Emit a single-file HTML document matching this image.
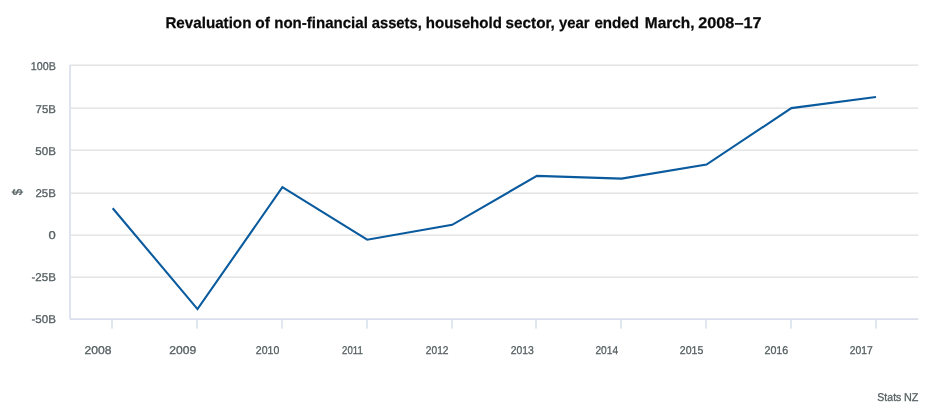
<!DOCTYPE html>
<html lang="en"><head><meta charset="utf-8"><title>Revaluation of non-financial assets, household sector</title>
<style>html,body{margin:0;padding:0;background:#fff;}body{width:945px;height:413px;overflow:hidden;}svg{display:block;}text{font-family:"Liberation Sans",sans-serif;}.t{will-change:transform;text-rendering:geometricPrecision;}</style></head><body>
<svg width="945" height="413" viewBox="0 0 945 413">
<rect width="945" height="413" fill="#ffffff"/>
<g fill="#e6e6e6">
<rect x="70" y="64" width="848.3" height="1" fill="#efefef"/><rect x="70" y="65" width="848.3" height="1"/>
<rect x="70" y="107" width="848.3" height="1" fill="#efefef"/><rect x="70" y="108" width="848.3" height="1"/>
<rect x="70" y="149" width="848.3" height="1" fill="#efefef"/><rect x="70" y="150" width="848.3" height="1"/>
<rect x="70" y="192" width="848.3" height="1" fill="#efefef"/><rect x="70" y="193" width="848.3" height="1"/>
<rect x="70" y="234" width="848.3" height="1" fill="#efefef"/><rect x="70" y="235" width="848.3" height="1"/>
<rect x="70" y="276" width="848.3" height="1" fill="#efefef"/><rect x="70" y="277" width="848.3" height="1"/>
</g>
<g fill="#e1e7f1">
<rect x="69" y="65" width="2" height="254" fill="#dee4f0"/>
<rect x="69.9" y="318" width="848.4" height="1" fill="#e1e6f0"/>
<rect x="69.9" y="319" width="848.4" height="1" fill="#dbdcec"/>
<rect x="111" y="320" width="2" height="8.6"/>
<rect x="196" y="320" width="2" height="8.6"/>
<rect x="281" y="320" width="2" height="8.6"/>
<rect x="366" y="320" width="2" height="8.6"/>
<rect x="451" y="320" width="2" height="8.6"/>
<rect x="535" y="320" width="2" height="8.6"/>
<rect x="620" y="320" width="2" height="8.6"/>
<rect x="705" y="320" width="2" height="8.6"/>
<rect x="790" y="320" width="2" height="8.6"/>
<rect x="875" y="320" width="2" height="8.6"/>
</g>
<path d="M112.7 208.2 L197.5 309.1 L282.4 187.2 L367.2 239.7 L452.2 224.8 L536.9 175.9 L621.5 178.6 L706.5 164.6 L791.4 108.1 L876.0 97.0" fill="none" stroke="#0a5a9e" stroke-width="2.1" stroke-linejoin="miter" stroke-linecap="butt"/>
<g class="t">
<text y="28" font-size="15.5px" font-weight="bold" fill="#0a0a0a" stroke="#0a0a0a" stroke-width="0.25"><tspan x="165.41" textLength="86.01" lengthAdjust="spacingAndGlyphs">Revaluation</tspan> <tspan x="255.22" textLength="14.63" lengthAdjust="spacingAndGlyphs">of</tspan> <tspan x="274.23" textLength="93.61" lengthAdjust="spacingAndGlyphs">non-financial</tspan> <tspan x="371.69" textLength="50.17" lengthAdjust="spacingAndGlyphs">assets,</tspan> <tspan x="425.77" textLength="76.09" lengthAdjust="spacingAndGlyphs">household</tspan> <tspan x="505.60" textLength="49.28" lengthAdjust="spacingAndGlyphs">sector,</tspan> <tspan x="559.01" textLength="30.59" lengthAdjust="spacingAndGlyphs">year</tspan> <tspan x="594.43" textLength="44.54" lengthAdjust="spacingAndGlyphs">ended</tspan> <tspan x="644.79" textLength="49.71" lengthAdjust="spacingAndGlyphs">March,</tspan> <tspan x="698.26" textLength="63.23" lengthAdjust="spacingAndGlyphs">2008–17</tspan></text>
<g font-size="11.35px" fill="#566062" stroke="#566062" stroke-width="0.3">
<text x="30.84" y="70" textLength="24.98" lengthAdjust="spacingAndGlyphs">100B</text>
<text x="35.57" y="113" textLength="20.29" lengthAdjust="spacingAndGlyphs">75B</text>
<text x="35.29" y="155" textLength="20.57" lengthAdjust="spacingAndGlyphs">50B</text>
<text x="35.47" y="197" textLength="20.38" lengthAdjust="spacingAndGlyphs">25B</text>
<text x="48.64" y="239" textLength="7.21" lengthAdjust="spacingAndGlyphs">0</text>
<text x="31.44" y="281" textLength="24.42" lengthAdjust="spacingAndGlyphs">-25B</text>
<text x="31.44" y="323" textLength="24.42" lengthAdjust="spacingAndGlyphs">-50B</text>
<text x="84.54" y="354" textLength="27.04" lengthAdjust="spacingAndGlyphs">2008</text>
<text x="169.34" y="354" textLength="26.98" lengthAdjust="spacingAndGlyphs">2009</text>
<text x="255.82" y="354" textLength="23.44" lengthAdjust="spacingAndGlyphs">2010</text>
<text x="342.08" y="354" textLength="20.72" lengthAdjust="spacingAndGlyphs">2011</text>
<text x="425.84" y="354" textLength="22.73" lengthAdjust="spacingAndGlyphs">2012</text>
<text x="510.63" y="354" textLength="23.08" lengthAdjust="spacingAndGlyphs">2013</text>
<text x="595.44" y="354" textLength="22.71" lengthAdjust="spacingAndGlyphs">2014</text>
<text x="679.82" y="354" textLength="23.47" lengthAdjust="spacingAndGlyphs">2015</text>
<text x="764.41" y="354" textLength="23.91" lengthAdjust="spacingAndGlyphs">2016</text>
<text x="849.83" y="354" textLength="23.04" lengthAdjust="spacingAndGlyphs">2017</text>
<text y="401"><tspan x="877.37" textLength="23.96" lengthAdjust="spacingAndGlyphs">Stats</tspan> <tspan x="904.06" textLength="14.43" lengthAdjust="spacingAndGlyphs">NZ</tspan></text>
</g>
<text transform="translate(21.8 192) rotate(-90) scale(1 1.2)" text-anchor="middle" font-size="11.35px" fill="#566062" stroke="#566062" stroke-width="0.3">$</text>
</g>
</svg></body></html>
